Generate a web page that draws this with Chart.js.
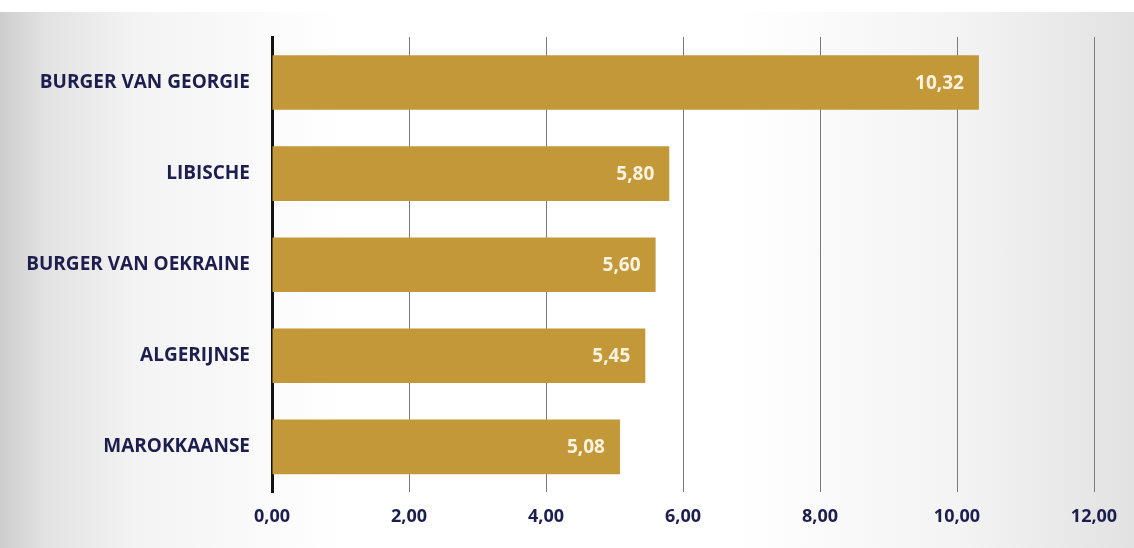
<!DOCTYPE html>
<html>
<head>
<meta charset="utf-8">
<script src="https://cdn.jsdelivr.net/npm/chart.js@4"></script>
<style>
  html, body { margin: 0; padding: 0; background: #fff; }
  #wrap {
    position: absolute; left: 0; top: 12px; width: 1134px; height: 536px;
    background: linear-gradient(90deg, #cdcdcd 0%, #e2e2e2 4%, #f3f3f3 12%, #ffffff 30%, #ffffff 65%, #f3f3f3 85%, #e2e2e2 100%);
  }
  #c { position: absolute; left: 0; top: 0; }
</style>
</head>
<body>
<div id="wrap"></div>
<canvas id="c" width="1134" height="548"></canvas>
<script>
'use strict';

const categories = ['BURGER VAN GEORGIE', 'LIBISCHE', 'BURGER VAN OEKRAINE', 'ALGERIJNSE', 'MAROKKAANSE'];
const values = [10.32, 5.80, 5.60, 5.45, 5.08];
const xTicks = [0, 2, 4, 6, 8, 10, 12];

const GOLD = '#c39839';
const NAVY = '#1e1e4e';

const fmt = v => v.toFixed(2).replace('.', ',');

// white value labels inside the bar ends
const valueLabels = {
    id: 'valueLabels',
    afterDatasetsDraw(chart) {
        const ctx = chart.ctx;
        const meta = chart.getDatasetMeta(0);
        ctx.save();
        ctx.font = 'bold 19px "Open Sans", sans-serif';
        ctx.fillStyle = '#fbf3e0';
        ctx.textAlign = 'right';
        ctx.textBaseline = 'middle';
        meta.data.forEach((bar, i) => {
            ctx.fillText(fmt(values[i]), bar.x - 15, bar.y + 1);
        });
        ctx.restore();
    }
};

new Chart(document.getElementById('c'), {
    type: 'bar',
    data: {
        labels: categories,
        datasets: [{
            data: values,
            backgroundColor: GOLD,
            borderWidth: 0,
            barPercentage: 1,
            categoryPercentage: 0.6
        }]
    },
    options: {
        indexAxis: 'y',
        responsive: false,
        animation: false,
        layout: { padding: { left: 0, right: 40, top: 37, bottom: 6 } },
        plugins: { legend: { display: false }, tooltip: { enabled: false } },
        scales: {
            x: {
                min: 0, max: 12,
                afterBuildTicks: axis => { axis.ticks = xTicks.map(v => ({ value: v })); },
                grid: { color: '#7a7a7a', lineWidth: 1, drawTicks: false },
                border: { display: false },
                ticks: {
                    padding: 14,
                    color: NAVY,
                    font: { family: '"Open Sans", sans-serif', size: 18, weight: 'bold' },
                    callback: v => fmt(v)
                }
            },
            y: {
                afterFit: axis => { axis.width = 272; },
                grid: { display: false, drawTicks: false },
                border: { display: true, color: '#111', width: 3 },
                ticks: {
                    padding: 22,
                    color: NAVY,
                    font: { family: '"Open Sans", sans-serif', size: 19, weight: 'bold' }
                }
            }
        }
    },
    plugins: [valueLabels]
});
</script>
</body>
</html>
